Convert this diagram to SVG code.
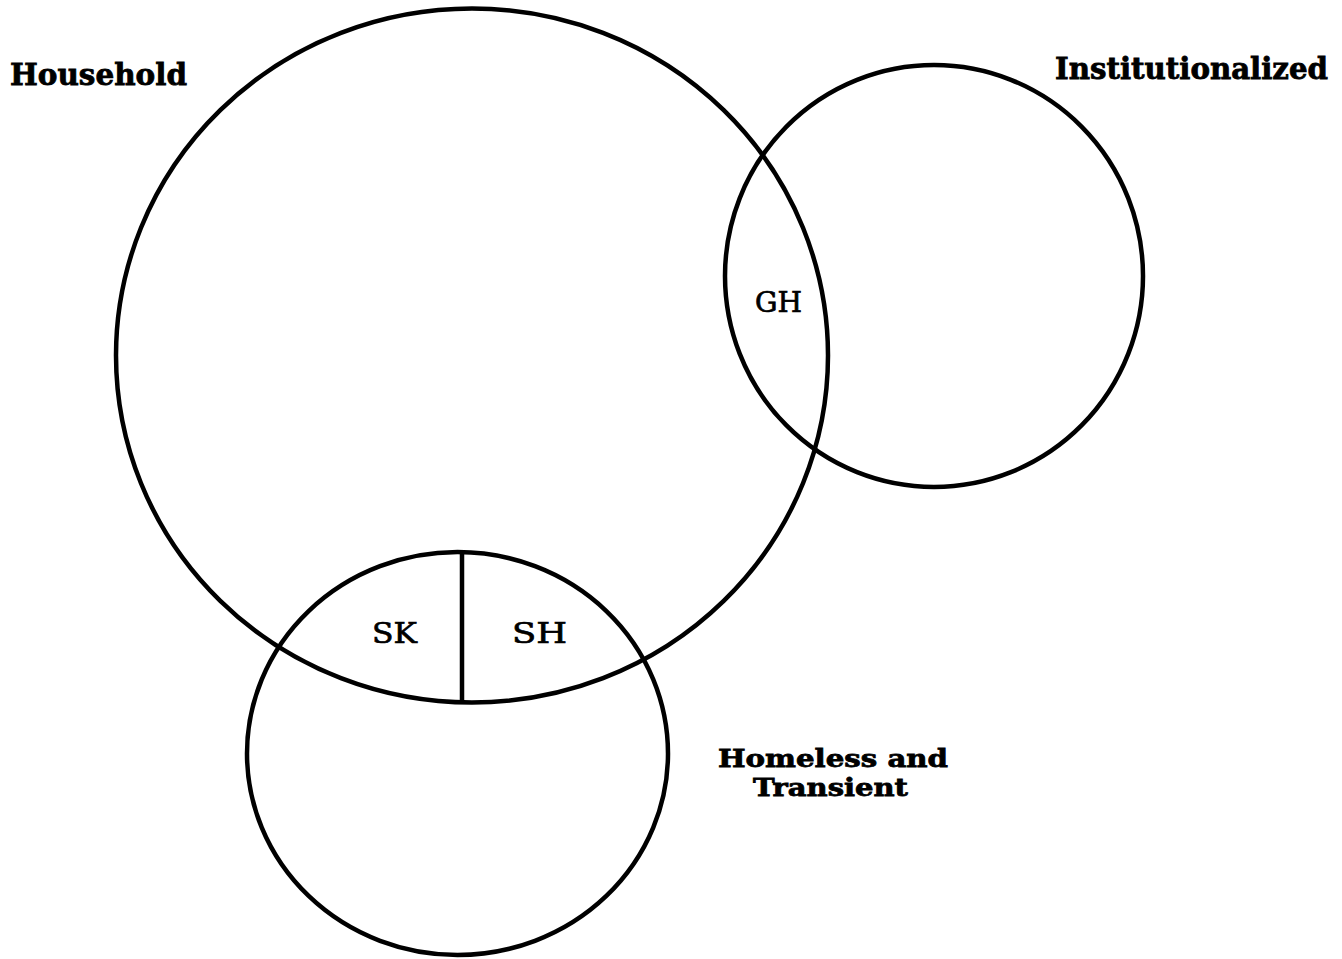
<svg xmlns="http://www.w3.org/2000/svg" width="1342" height="959" viewBox="0 0 1342 959">
<style>
.c{fill:none;stroke:#000;stroke-width:4.5}
.t{font-family:"DejaVu Serif","Liberation Serif",serif;font-weight:bold;fill:#000;stroke:#000;stroke-width:0.8}
.s{font-family:"DejaVu Serif","Liberation Serif",serif;font-weight:normal;fill:#000;stroke:#000;stroke-width:0.7}
</style>
<rect width="1342" height="959" fill="#fff"/>
<g id="household">
<ellipse class="c" cx="472" cy="355.5" rx="356" ry="347"/>
<text class="t" x="10" y="85" font-size="30" textLength="177" lengthAdjust="spacingAndGlyphs">Household</text>
</g>
<g id="institutionalized">
<ellipse class="c" cx="934" cy="276" rx="209" ry="211"/>
<text class="t" x="1055" y="79" font-size="29" textLength="273" lengthAdjust="spacingAndGlyphs">Institutionalized</text>
</g>
<g id="homeless">
<ellipse class="c" cx="457.5" cy="753.5" rx="210.5" ry="201.5"/>
<text class="t" x="718" y="767" font-size="25" textLength="230" lengthAdjust="spacingAndGlyphs">Homeless and</text>
<text class="t" x="753" y="796" font-size="25" textLength="155" lengthAdjust="spacingAndGlyphs">Transient</text>
</g>
<g id="connectors">
<line class="c" x1="462" y1="552" x2="462" y2="702"/>
</g>
<g id="gh"><text class="s" x="755" y="312" font-size="27" textLength="47" lengthAdjust="spacingAndGlyphs">GH</text></g>
<g id="sk"><text class="s" x="372" y="643" font-size="28" textLength="45" lengthAdjust="spacingAndGlyphs">SK</text></g>
<g id="sh"><text class="s" x="512" y="643" font-size="28" textLength="55" lengthAdjust="spacingAndGlyphs">SH</text></g>
</svg>
